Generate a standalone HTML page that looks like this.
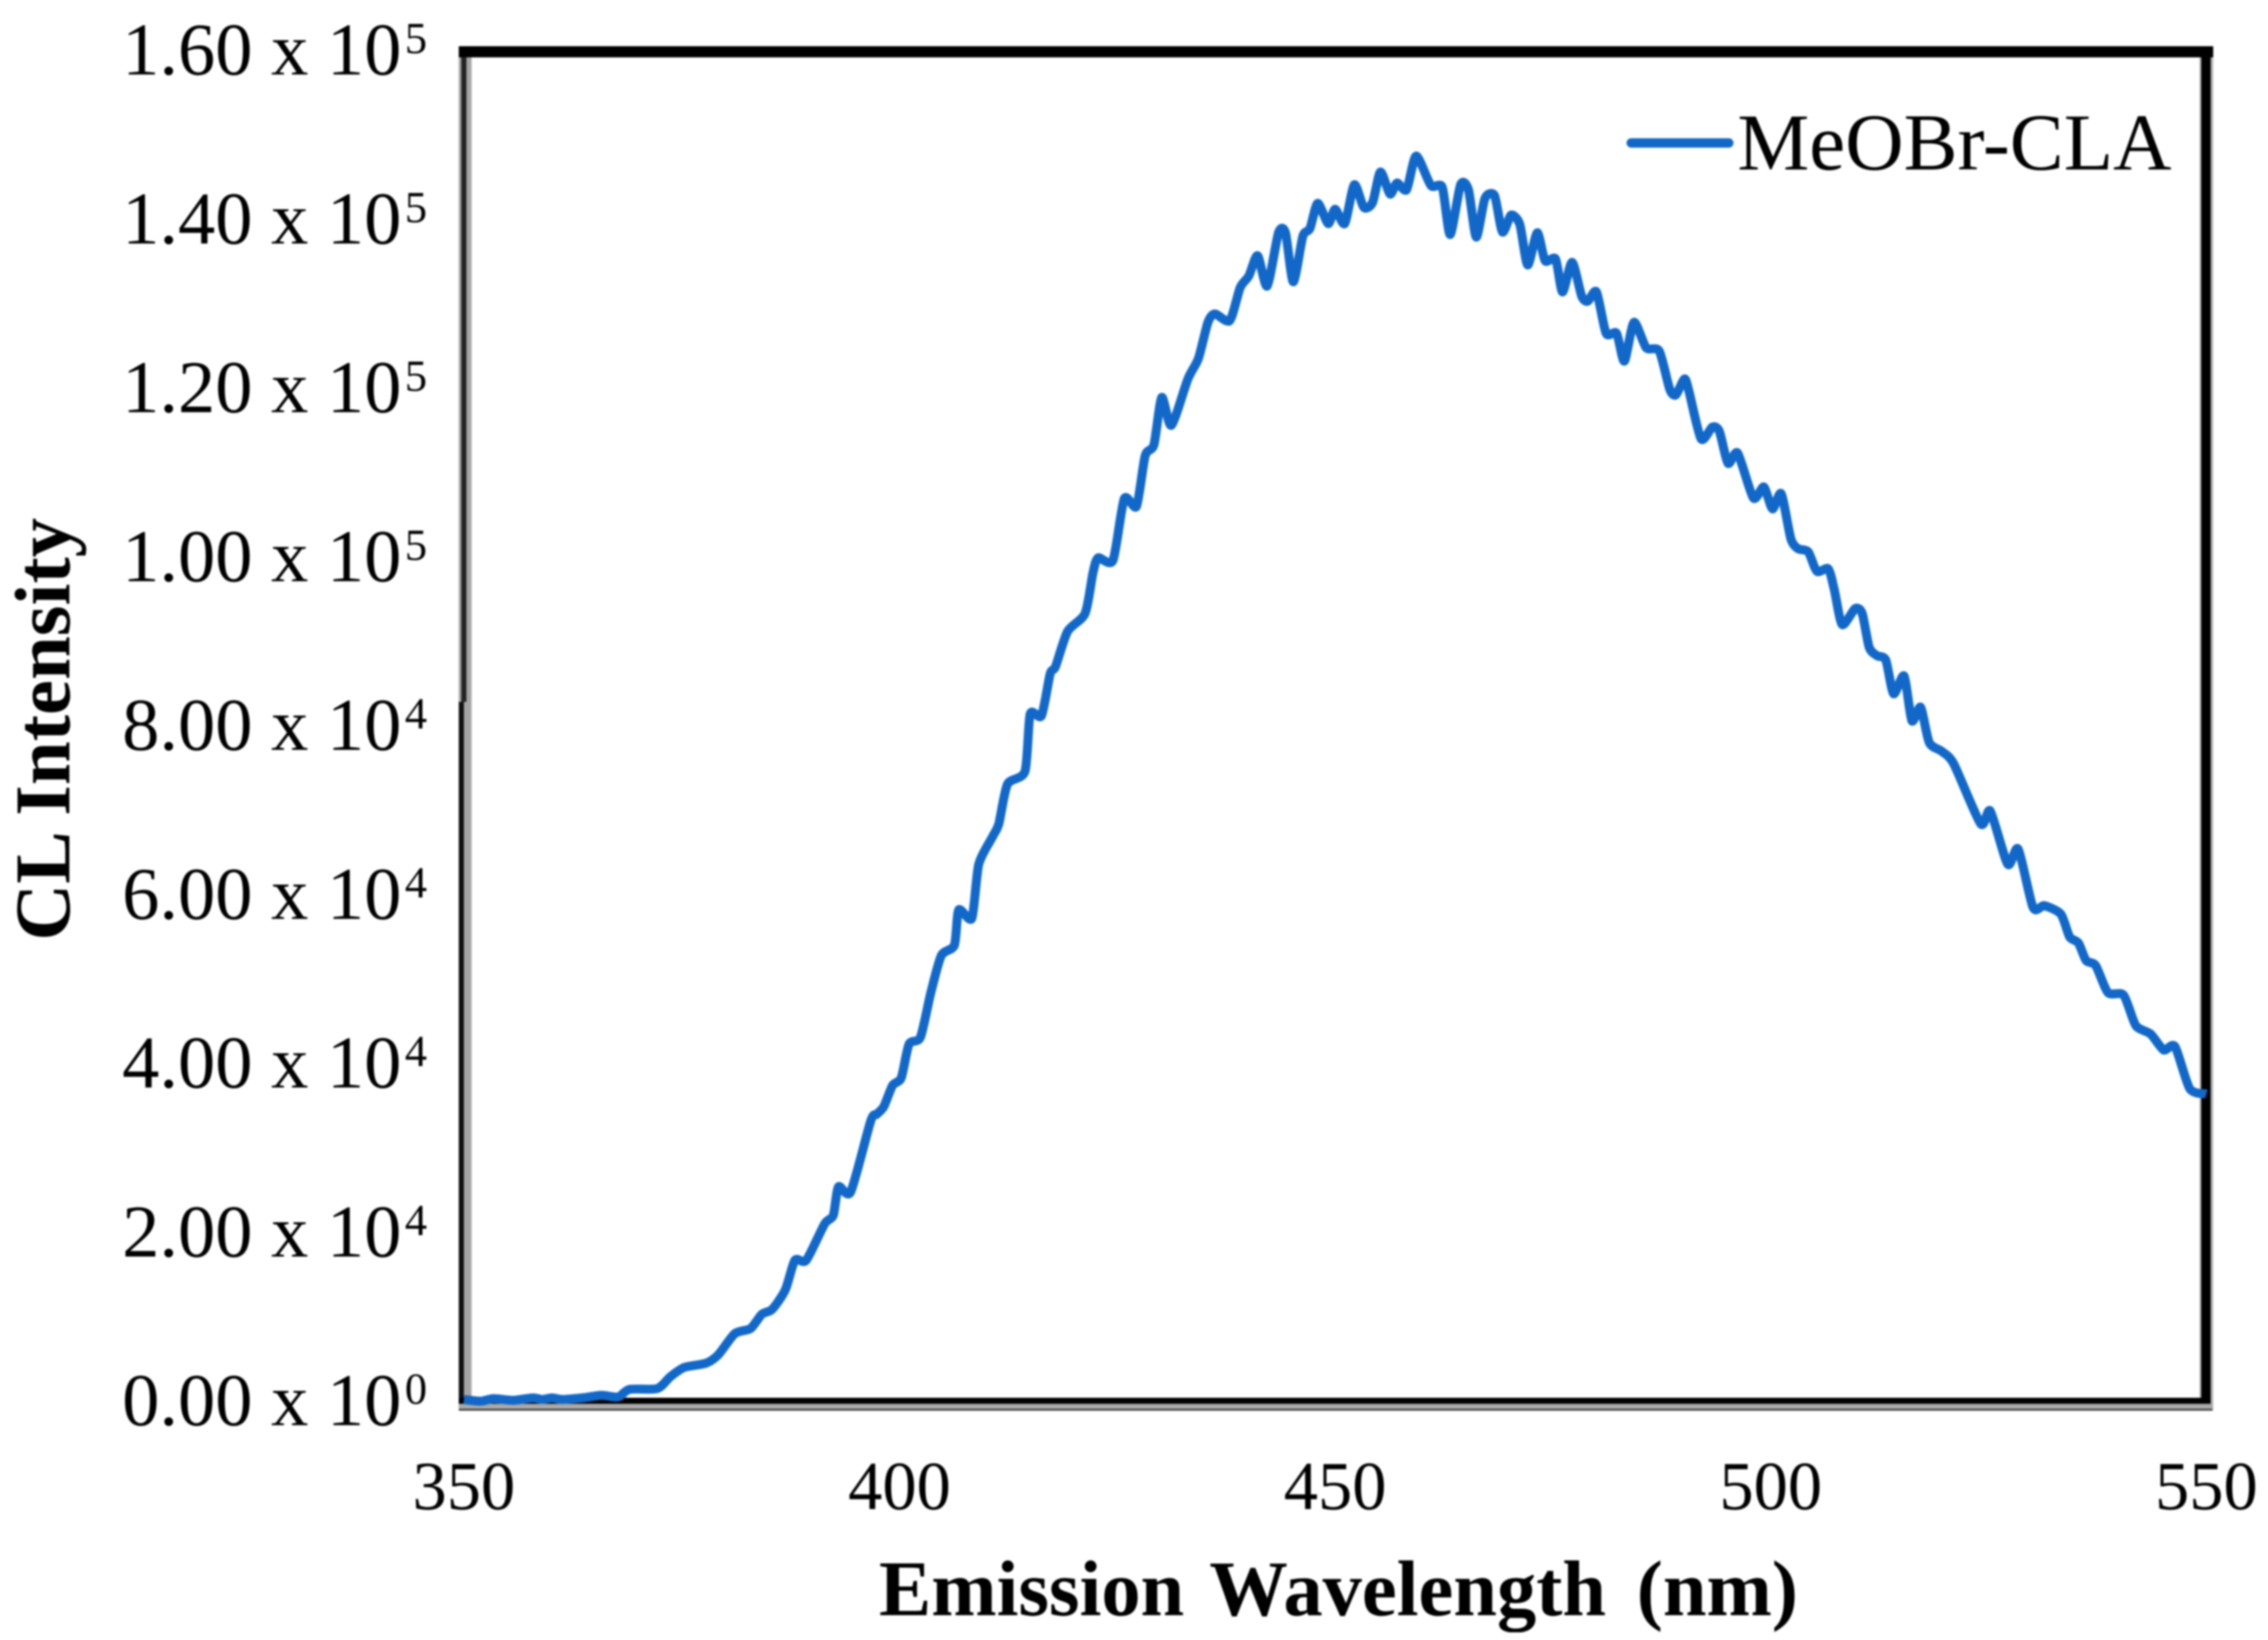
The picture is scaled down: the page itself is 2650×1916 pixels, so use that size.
<!DOCTYPE html>
<html lang="en">
<head>
<meta charset="utf-8">
<title>CL Intensity vs Emission Wavelength</title>
<style>
html,body{margin:0;padding:0;background:#fff;}
svg{display:block;}
text{font-family:"Liberation Serif","Times New Roman",serif;fill:#000;}
</style>
</head>
<body>
<svg id="chart" xmlns="http://www.w3.org/2000/svg" width="2650" height="1916" viewBox="0 0 2650 1916">
  <rect x="0" y="0" width="2650" height="1916" fill="#fff"/>
  <g id="root" style="filter:blur(1px)">
    <g id="frame">
      <rect x="536" y="60" width="15" height="760" fill="#a6a6a6"/>
      <rect x="539" y="60" width="6" height="760" fill="#222"/>
      <rect x="536" y="820" width="6" height="828" fill="#111"/>
      <rect x="542" y="820" width="9" height="820" fill="#a6a6a6"/>
      <rect x="2570" y="54" width="16" height="1594" fill="#b4b4b4"/>
      <rect x="2572" y="54" width="11" height="1594" fill="#000"/>
      <rect x="536" y="1640" width="2049" height="8" fill="#a8a8a8"/>
      <rect x="536" y="1646" width="2049" height="2" fill="#333"/>
      <rect x="536" y="1633" width="2047" height="7" fill="#000"/>
      <rect x="536" y="54" width="2050" height="13" fill="#000"/>
    </g>
    <g id="y-ticks"></g>
    <g id="x-ticks"></g>
    <text transform="translate(81,1099) rotate(-90)" font-size="92" font-weight="bold" textLength="494" lengthAdjust="spacingAndGlyphs">CL Intensity</text>
    <text x="1027" y="1887" font-size="91.7" font-weight="bold" word-spacing="8">Emission Wavelength <tspan dx="5">(nm)</tspan></text>
    <path id="series-line" fill="none" stroke="#1268c8" stroke-width="10.5" stroke-linejoin="round" stroke-linecap="butt"></path>
    <g>
      <line x1="1906" y1="167" x2="2020" y2="167" stroke="#1268c8" stroke-width="11" stroke-linecap="round"/>
      <text x="2030" y="198" font-size="94.5">MeOBr-CLA</text>
    </g>
  </g>
</svg>
<script>
const xTickValues = [350, 400, 450, 500, 550];
const yTickValues = [0, 20000, 40000, 60000, 80000, 100000, 120000, 140000, 160000];
const yTickLabels = ["0.00 x 10", "2.00 x 10", "4.00 x 10", "6.00 x 10", "8.00 x 10", "1.00 x 10", "1.20 x 10", "1.40 x 10", "1.60 x 10"];
const yTickExponents = ["0", "4", "4", "4", "4", "5", "5", "5", "5"];
const wavelengths = [
  350.0,351.9,353.4,355.7,357.9,359.0,360.1,361.3,363.6,365.8,
  367.7,369.0,372.2,373.7,375.3,377.8,379.2,381.1,382.9,384.2,
  385.4,386.9,388.0,389.3,391.4,392.4,393.0,394.4,396.7,397.4,
  398.2,399.2,400.2,401.1,402.4,403.6,404.8,406.3,406.8,408.3,
  409.1,410.7,411.4,412.4,414.4,415.0,416.3,417.3,417.9,419.3,
  421.3,422.2,422.8,424.5,425.8,427.2,428.2,429.2,430.1,431.2,
  433.1,434.3,435.4,436.2,437.9,439.1,440.1,441.1,442.2,443.5,
  444.3,445.2,446.3,447.1,448.0,449.2,450.0,451.1,452.2,453.3,
  454.3,455.2,456.3,457.1,458.2,459.3,461.0,462.3,463.2,464.4,
  465.3,466.2,467.2,468.3,469.2,470.2,471.2,472.1,473.2,474.1,
  475.3,476.1,477.2,478.3,479.0,480.0,481.1,482.3,483.2,484.3,
  485.7,487.2,488.4,489.1,490.1,490.6,492.0,493.3,494.1,495.1,
  496.2,498.0,499.2,500.2,501.2,502.3,503.1,504.3,505.3,506.6,
  507.3,508.2,509.7,510.5,511.3,512.2,513.2,514.1,515.3,516.2,
  517.2,518.2,519.6,521.0,524.1,525.2,527.2,528.4,530.1,531.4,
  533.3,534.3,535.3,536.2,537.3,538.7,540.5,541.9,543.6,545.1,
  546.4,548.1,550.0
];
const intensities = [
  200,0,300,100,400,200,400,200,400,700,
  500,1400,1500,2900,4000,4500,5500,8000,8600,10300,
  10900,13200,16700,16700,21000,22000,25400,24800,33200,34000,
  34900,37400,38300,42300,43100,48400,52800,54000,58200,57200,
  63600,66900,68400,73100,74600,81400,81200,86200,87000,91200,
  93300,98100,99900,99600,106900,106000,112000,113300,118900,115600,
  121100,123500,127800,128800,128000,131900,133300,135700,132100,138400,
  138400,132600,138000,138900,141900,139500,141200,139500,144100,141400,
  142000,145600,143000,144300,143500,147500,144000,143800,138200,144100,
  143500,137900,142500,142800,138500,140500,139400,134600,138400,135100,
  135300,131400,134900,130900,130300,131400,126500,126500,123200,127800,
  124800,124400,119900,119200,121100,119700,114000,115400,114900,111100,
  112300,107000,108300,105700,107500,102200,101000,100600,98300,98600,
  96100,92000,93900,93300,89300,88300,87800,83800,85900,80600,
  82200,78000,77000,75500,68400,69900,63600,65400,58500,58700,
  57700,55000,54300,52200,51600,48400,48100,44500,43500,41600,
  42000,37000,36400
];

const SVG_NS = "http://www.w3.org/2000/svg";
const plotLeft = 542, plotRight = 2578, plotTop = 59, plotBottom = 1637;
function xScale(v) { return plotLeft + (v - 350) / (550 - 350) * (plotRight - plotLeft); }
function yScale(v) { return plotBottom - v / 160000 * (plotBottom - plotTop); }

const yGroup = document.getElementById("y-ticks");
yTickValues.forEach(function (v, i) {
  const t = document.createElementNS(SVG_NS, "text");
  
  
  t.setAttribute("x", 499);
  t.setAttribute("y", yScale(v) + 28);
  t.setAttribute("text-anchor", "end");
  t.setAttribute("font-size", 87);
  const base = document.createElementNS(SVG_NS, "tspan");
  base.textContent = yTickLabels[i];
  t.appendChild(base);
  const sup = document.createElementNS(SVG_NS, "tspan");
  sup.setAttribute("font-size", 52);
  sup.setAttribute("dy", -25);
  sup.setAttribute("dx", 4);
  sup.textContent = yTickExponents[i];
  t.appendChild(sup);
  yGroup.appendChild(t);
});

const xGroup = document.getElementById("x-ticks");
xTickValues.forEach(function (v) {
  const t = document.createElementNS(SVG_NS, "text");
  
  
  t.setAttribute("x", xScale(v));
  t.setAttribute("y", 1763);
  t.setAttribute("text-anchor", "middle");
  t.setAttribute("font-size", 80);
  t.textContent = String(v);
  xGroup.appendChild(t);
});

const pts = wavelengths.map(function (w, i) { return [xScale(w), yScale(intensities[i])]; });
let d = "M" + pts[0][0].toFixed(1) + " " + pts[0][1].toFixed(1);
for (let i = 0; i < pts.length - 1; i++) {
  const p0 = pts[Math.max(i - 1, 0)], p1 = pts[i], p2 = pts[i + 1], p3 = pts[Math.min(i + 2, pts.length - 1)];
  const k = 0.12;
  d += " C" + (p1[0] + (p2[0] - p0[0]) * k).toFixed(1) + " " + (p1[1] + (p2[1] - p0[1]) * k).toFixed(1) +
       " " + (p2[0] - (p3[0] - p1[0]) * k).toFixed(1) + " " + (p2[1] - (p3[1] - p1[1]) * k).toFixed(1) +
       " " + p2[0].toFixed(1) + " " + p2[1].toFixed(1);
}
document.getElementById("series-line").setAttribute("d", d);
</script>
</body>
</html>
